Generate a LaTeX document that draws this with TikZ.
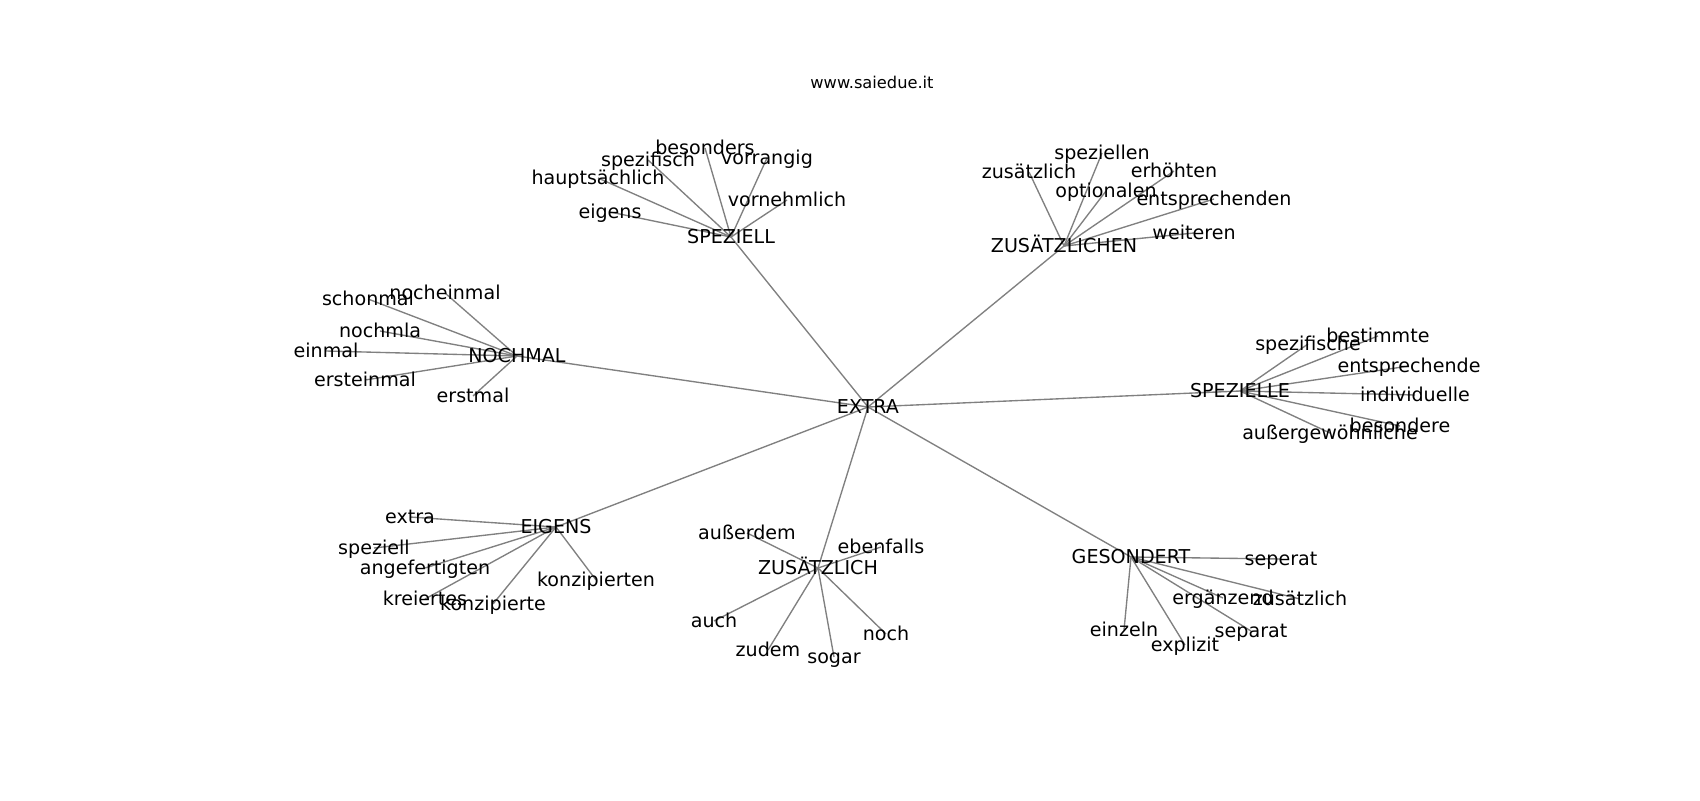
\documentclass[tikz,border=0pt]{standalone}
\usepackage{fontspec}
\setmainfont{DejaVu Sans}
\pgfdeclarelayer{background}
\pgfsetlayers{background,main}
\tikzset{
  word/.style={font=\fontsize{13.75}{16}\selectfont, inner sep=0pt, text height=1em, text depth=0pt},
  link/.style={draw=gray, line width=0.98pt}
}
\begin{document}
\begin{tikzpicture}[x=0.72pt,y=-0.72pt]
\useasboundingbox (0,0) rectangle (1700,800);
\node[font=\fontsize{11.7}{14}\selectfont, inner sep=0pt, text height=1em, text depth=0pt] (title) at (872,82) {www.saiedue.it};
\node[word] (hextra) at (868,407) {EXTRA};
\node[word] (hspeziell) at (731,237) {SPEZIELL};
\node[word] (hzusaetzlichen) at (1064,246) {ZUSÄTZLICHEN};
\node[word] (hnochmal) at (517,356) {NOCHMAL};
\node[word] (hspezielle) at (1240,391) {SPEZIELLE};
\node[word] (heigens) at (556,527) {EIGENS};
\node[word] (hzusaetzlich) at (818,568) {ZUSÄTZLICH};
\node[word] (hgesondert) at (1131,557) {GESONDERT};
\node[word] (besonders) at (705,148) {besonders};
\node[word] (vorrangig) at (767,158) {vorrangig};
\node[word] (spezifisch) at (648,160) {spezifisch};
\node[word] (hauptsaechlich) at (598,178) {hauptsächlich};
\node[word] (eigens) at (610,212) {eigens};
\node[word] (vornehmlich) at (787,200) {vornehmlich};
\node[word] (zusaetzlichA) at (1029,172) {zusätzlich};
\node[word] (speziellen) at (1102,153) {speziellen};
\node[word] (optionalen) at (1106,191) {optionalen};
\node[word] (erhoehten) at (1174,171) {erhöhten};
\node[word] (entsprechenden) at (1214,199) {entsprechenden};
\node[word] (weiteren) at (1194,233) {weiteren};
\node[word] (spezifische) at (1308,344) {spezifische};
\node[word] (bestimmte) at (1378,336) {bestimmte};
\node[word] (entsprechende) at (1409,366) {entsprechende};
\node[word] (individuelle) at (1415,395) {individuelle};
\node[word] (besondere) at (1400,426) {besondere};
\node[word] (aussergewoehnliche) at (1330,433) {außergewöhnliche};
\node[word] (schonmal) at (368,299) {schonmal};
\node[word] (nocheinmal) at (445,293) {nocheinmal};
\node[word] (nochmla) at (380,331) {nochmla};
\node[word] (einmal) at (326,351) {einmal};
\node[word] (ersteinmal) at (365,380) {ersteinmal};
\node[word] (erstmal) at (473,396) {erstmal};
\node[word] (extra) at (410,517) {extra};
\node[word] (speziell) at (374,548) {speziell};
\node[word] (angefertigten) at (425,568) {angefertigten};
\node[word] (kreiertes) at (425,599) {kreiertes};
\node[word] (konzipierte) at (493,604) {konzipierte};
\node[word] (konzipierten) at (596,580) {konzipierten};
\node[word] (ausserdem) at (747,533) {außerdem};
\node[word] (ebenfalls) at (881,547) {ebenfalls};
\node[word] (auch) at (714,621) {auch};
\node[word] (zudem) at (768,650) {zudem};
\node[word] (sogar) at (834,657) {sogar};
\node[word] (noch) at (886,634) {noch};
\node[word] (seperat) at (1281,559) {seperat};
\node[word] (ergaenzend) at (1223,598) {ergänzend};
\node[word] (zusaetzlichB) at (1300,599) {zusätzlich};
\node[word] (einzeln) at (1124,630) {einzeln};
\node[word] (explizit) at (1185,645) {explizit};
\node[word] (separat) at (1251,631) {separat};
\begin{pgfonlayer}{background}
\draw[link] (hextra.center) -- (hspeziell.center);
\draw[link] (hextra.center) -- (hzusaetzlichen.center);
\draw[link] (hextra.center) -- (hnochmal.center);
\draw[link] (hextra.center) -- (hspezielle.center);
\draw[link] (hextra.center) -- (heigens.center);
\draw[link] (hextra.center) -- (hzusaetzlich.center);
\draw[link] (hextra.center) -- (hgesondert.center);
\draw[link] (hspeziell.center) -- (besonders.center);
\draw[link] (hspeziell.center) -- (vorrangig.center);
\draw[link] (hspeziell.center) -- (spezifisch.center);
\draw[link] (hspeziell.center) -- (hauptsaechlich.center);
\draw[link] (hspeziell.center) -- (eigens.center);
\draw[link] (hspeziell.center) -- (vornehmlich.center);
\draw[link] (hzusaetzlichen.center) -- (zusaetzlichA.center);
\draw[link] (hzusaetzlichen.center) -- (speziellen.center);
\draw[link] (hzusaetzlichen.center) -- (optionalen.center);
\draw[link] (hzusaetzlichen.center) -- (erhoehten.center);
\draw[link] (hzusaetzlichen.center) -- (entsprechenden.center);
\draw[link] (hzusaetzlichen.center) -- (weiteren.center);
\draw[link] (hspezielle.center) -- (spezifische.center);
\draw[link] (hspezielle.center) -- (bestimmte.center);
\draw[link] (hspezielle.center) -- (entsprechende.center);
\draw[link] (hspezielle.center) -- (individuelle.center);
\draw[link] (hspezielle.center) -- (besondere.center);
\draw[link] (hspezielle.center) -- (aussergewoehnliche.center);
\draw[link] (hnochmal.center) -- (schonmal.center);
\draw[link] (hnochmal.center) -- (nocheinmal.center);
\draw[link] (hnochmal.center) -- (nochmla.center);
\draw[link] (hnochmal.center) -- (einmal.center);
\draw[link] (hnochmal.center) -- (ersteinmal.center);
\draw[link] (hnochmal.center) -- (erstmal.center);
\draw[link] (heigens.center) -- (extra.center);
\draw[link] (heigens.center) -- (speziell.center);
\draw[link] (heigens.center) -- (angefertigten.center);
\draw[link] (heigens.center) -- (kreiertes.center);
\draw[link] (heigens.center) -- (konzipierte.center);
\draw[link] (heigens.center) -- (konzipierten.center);
\draw[link] (hzusaetzlich.center) -- (ausserdem.center);
\draw[link] (hzusaetzlich.center) -- (ebenfalls.center);
\draw[link] (hzusaetzlich.center) -- (auch.center);
\draw[link] (hzusaetzlich.center) -- (zudem.center);
\draw[link] (hzusaetzlich.center) -- (sogar.center);
\draw[link] (hzusaetzlich.center) -- (noch.center);
\draw[link] (hgesondert.center) -- (seperat.center);
\draw[link] (hgesondert.center) -- (ergaenzend.center);
\draw[link] (hgesondert.center) -- (zusaetzlichB.center);
\draw[link] (hgesondert.center) -- (einzeln.center);
\draw[link] (hgesondert.center) -- (explizit.center);
\draw[link] (hgesondert.center) -- (separat.center);
\end{pgfonlayer}
\end{tikzpicture}
\end{document}
